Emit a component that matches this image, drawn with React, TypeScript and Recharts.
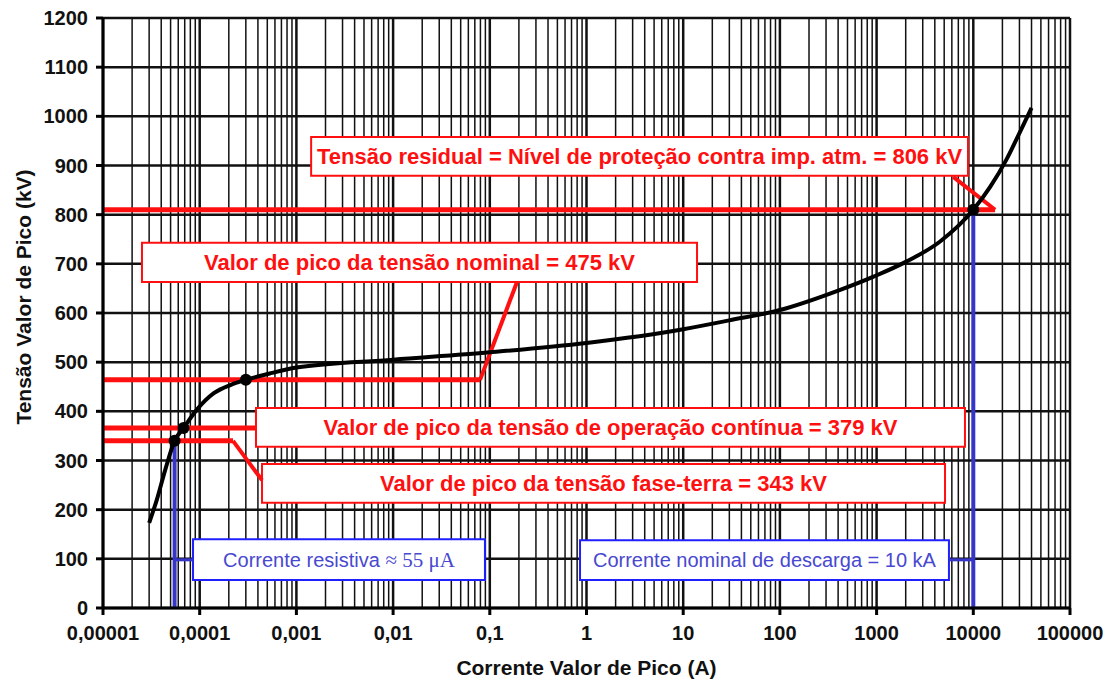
import {
  LineChart,
  Line,
  XAxis,
  YAxis,
  CartesianGrid,
  ReferenceLine,
  ReferenceArea,
  ReferenceDot,
} from 'recharts';

// curve (A, kV)
const current = [
  3.0e-5, 3.6e-5, 4.4e-5, 5.5e-5, 6.8e-5, 9.3e-5, 1.4e-4, 2.1e-4, 3e-4, 5.3e-4, 1e-3,
  1e-2, 1e-1, 1, 10, 30, 100, 420, 930, 2050, 4500, 1e4, 1.5e4, 2.2e4, 3e4, 4e4,
];
const voltage = [
  173, 220, 281, 340, 366, 403, 437, 454, 464, 477, 489,
  505, 520, 539, 567, 585, 606, 647, 674, 705, 745, 810, 857, 912, 966, 1017,
];

// marked points on the curve
const markedCurrent = [5.5e-5, 6.8e-5, 3e-4, 1e4];
const markedVoltage = [340, 366, 464, 810];

const xTicks = [1e-5, 1e-4, 1e-3, 1e-2, 1e-1, 1, 10, 100, 1000, 1e4, 1e5];
const xTickLabels = ['0,00001', '0,0001', '0,001', '0,01', '0,1', '1', '10', '100', '1000', '10000', '100000'];
const yTicks = [0, 100, 200, 300, 400, 500, 600, 700, 800, 900, 1000, 1100, 1200];
const minorFactors = [2, 3, 4, 5, 6, 7, 8, 9];

const data = current.map((i, k) => ({ i, v: voltage[k] }));
const minorLines = xTicks.slice(0, -1).flatMap((d) => minorFactors.map((f) => d * f));

const FONT = '"Liberation Sans", Arial, sans-serif';
const RED = '#ff1010';
const BLUE = '#3535c8';

function boxLabel(text: string, color: string, bold: boolean) {
  return (props: any) => {
    const vb = props.viewBox;
    return (
      <text
        x={vb.x + vb.width / 2}
        y={vb.y + vb.height / 2}
        textAnchor="middle"
        dominantBaseline="central"
        fill={color}
        fontFamily={FONT}
        fontSize={bold ? 22 : 20}
        fontWeight={bold ? 'bold' : 'normal'}
      >
        {text}
      </text>
    );
  };
}

function resistiveLabel(props: any) {
  const vb = props.viewBox;
  return (
    <text
      x={vb.x + vb.width / 2}
      y={vb.y + vb.height / 2}
      textAnchor="middle"
      dominantBaseline="central"
      fill="#4848d0"
      fontFamily={FONT}
      fontSize={20}
    >
      Corrente resistiva <tspan fontFamily='"Liberation Serif", "Times New Roman", serif' fontSize={21}>≈ 55 μA</tspan>
    </text>
  );
}

export default function App() {
  return (
    <div style={{ position: 'absolute', left: 0, top: 0, width: 1115, height: 680, background: '#fff' }}>
      <LineChart width={1115} height={680} data={data} margin={{ top: 18, right: 45, bottom: 0, left: 0 }}>
        <CartesianGrid horizontal={false} verticalValues={minorLines} stroke="#111" strokeWidth={1.5} />
        <CartesianGrid horizontalValues={yTicks} verticalValues={xTicks} stroke="#111" strokeWidth={2.5} />
        <XAxis
          dataKey="i"
          type="number"
          scale="log"
          domain={[1e-5, 1e5]}
          ticks={xTicks}
          tickFormatter={(v: number) => xTickLabels[xTicks.findIndex((t) => Math.abs(Math.log10(t) - Math.log10(v)) < 1e-6)]}
          interval={0}
          allowDataOverflow
          height={72}
          stroke="#000"
          strokeWidth={3}
          tickSize={7}
          tickMargin={11}
          tick={{ fill: '#111', fontSize: 20, fontWeight: 'bold', fontFamily: FONT }}
          label={{
            value: 'Corrente Valor de Pico (A)',
            position: 'insideBottom',
            offset: 5,
            fill: '#111',
            fontSize: 21,
            fontWeight: 'bold',
            fontFamily: FONT,
          }}
        />
        <YAxis
          type="number"
          domain={[0, 1200]}
          ticks={yTicks}
          interval={0}
          width={103}
          stroke="#000"
          strokeWidth={3}
          tickSize={7}
          tickMargin={8}
          tick={{ fill: '#111', fontSize: 20, fontWeight: 'bold', fontFamily: FONT }}
          label={{
            content: () => (
              <text
                x={23}
                y={297}
                transform="rotate(-90, 23, 297)"
                textAnchor="middle"
                dominantBaseline="central"
                fill="#111"
                fontSize={21}
                fontWeight="bold"
                fontFamily={FONT}
              >
                Tensão Valor de Pico (kV)
              </text>
            ),
          }}
        />

        {/* red leader lines */}
        <ReferenceLine segment={[{ x: 1e-5, y: 810 }, { x: 1.68e4, y: 810 }]} stroke={RED} strokeWidth={5} />
        <ReferenceLine segment={[{ x: 1.68e4, y: 810 }, { x: 6.2e3, y: 877 }]} stroke={RED} strokeWidth={4} />
        <ReferenceLine segment={[{ x: 1e-5, y: 464 }, { x: 0.0793, y: 464 }]} stroke={RED} strokeWidth={5} />
        <ReferenceLine segment={[{ x: 0.0793, y: 464 }, { x: 0.191, y: 663 }]} stroke={RED} strokeWidth={4} />
        <ReferenceLine segment={[{ x: 1e-5, y: 366 }, { x: 3.82e-4, y: 366 }]} stroke={RED} strokeWidth={5} />
        <ReferenceLine segment={[{ x: 1e-5, y: 340 }, { x: 2.21e-4, y: 340 }]} stroke={RED} strokeWidth={5} />
        <ReferenceLine segment={[{ x: 2.21e-4, y: 340 }, { x: 4.41e-4, y: 260 }]} stroke={RED} strokeWidth={4} />

        {/* blue leader lines */}
        <ReferenceLine segment={[{ x: 5.5e-5, y: 0 }, { x: 5.5e-5, y: 340 }]} stroke={BLUE} strokeWidth={4} />
        <ReferenceLine segment={[{ x: 5.5e-5, y: 98 }, { x: 8.53e-5, y: 98 }]} stroke={BLUE} strokeWidth={3} />
        <ReferenceLine segment={[{ x: 1e4, y: 0 }, { x: 1e4, y: 810 }]} stroke={BLUE} strokeWidth={4} />
        <ReferenceLine segment={[{ x: 5.6e3, y: 98 }, { x: 1e4, y: 98 }]} stroke={BLUE} strokeWidth={3} />

        <Line type="monotone" dataKey="v" stroke="#000" strokeWidth={4} dot={false} isAnimationActive={false} />

        {/* annotation boxes */}
        <ReferenceArea
          x1={1.42e-3} x2={8.81e3} y1={879} y2={958}
          fill="#fff" fillOpacity={1} stroke={RED} strokeWidth={2}
          label={{ content: boxLabel('Tensão residual = Nível de proteção contra imp. atm. = 806 kV', RED, true) }}
        />
        <ReferenceArea
          x1={2.53e-5} x2={13.9} y1={663} y2={743}
          fill="#fff" fillOpacity={1} stroke={RED} strokeWidth={2}
          label={{ content: boxLabel('Valor de pico da tensão nominal = 475 kV', RED, true) }}
        />
        <ReferenceArea
          x1={3.82e-4} x2={8.2e3} y1={328} y2={407}
          fill="#fff" fillOpacity={1} stroke={RED} strokeWidth={2}
          label={{ content: boxLabel('Valor de pico da tensão de operação contínua = 379 kV', RED, true) }}
        />
        <ReferenceArea
          x1={4.41e-4} x2={5.1e3} y1={214} y2={293}
          fill="#fff" fillOpacity={1} stroke={RED} strokeWidth={2}
          label={{ content: boxLabel('Valor de pico da tensão fase-terra = 343 kV', RED, true) }}
        />
        <ReferenceArea
          x1={8.53e-5} x2={0.0891} y1={57} y2={140}
          fill="#fff" fillOpacity={1} stroke="#2020ff" strokeWidth={2}
          label={{ content: resistiveLabel }}
        />
        <ReferenceArea
          x1={0.857} x2={5.6e3} y1={57} y2={138}
          fill="#fff" fillOpacity={1} stroke="#2020ff" strokeWidth={2}
          label={{ content: boxLabel('Corrente nominal de descarga = 10 kA', '#4848d0', false) }}
        />

        {markedCurrent.map((c, k) => (
          <ReferenceDot key={k} x={c} y={markedVoltage[k]} r={6} fill="#000" stroke="none" />
        ))}
      </LineChart>
    </div>
  );
}
